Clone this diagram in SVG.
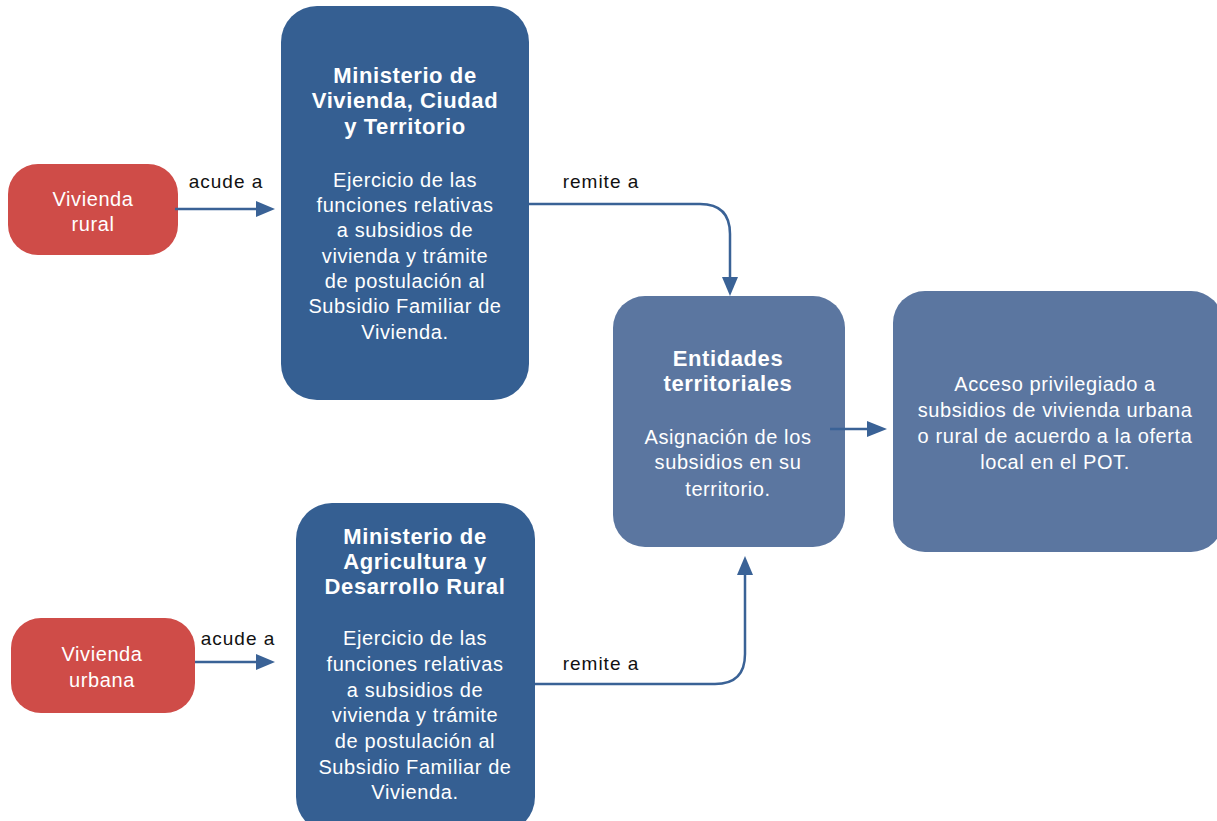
<svg xmlns="http://www.w3.org/2000/svg" width="1217" height="821" viewBox="0 0 1217 821">
<style>
.red{fill:#cf4c48}
.dark{fill:#355f92}
.mid{fill:#5b76a0}
text{font-family:"Liberation Sans",Arial,sans-serif;text-anchor:middle}
.b{fill:#fff;font-size:20px;letter-spacing:0.6px}
.t{fill:#fff;font-size:22px;font-weight:bold;letter-spacing:0.6px}
.lbl{fill:#111;font-size:19px;letter-spacing:1px}
.c{fill:none;stroke:#3a6296;stroke-width:2.5}
.h{fill:#3a6296}
</style>
<rect width="1217" height="821" fill="#fff"/>
<g id="vivienda-rural">
<rect class="red" x="8" y="164" width="170" height="91" rx="30"/>
<text class="b" x="93" y="206">Vivienda</text>
<text class="b" x="93" y="231">rural</text>
</g>
<g id="vivienda-urbana">
<rect class="red" x="11" y="618" width="184" height="95" rx="30"/>
<text class="b" x="102" y="661">Vivienda</text>
<text class="b" x="102" y="687">urbana</text>
</g>
<g id="ministerio-vivienda">
<rect class="dark" x="281" y="6" width="248" height="394" rx="36"/>
<text class="t" x="405" y="83">Ministerio de</text>
<text class="t" x="405" y="108">Vivienda, Ciudad</text>
<text class="t" x="405" y="134">y Territorio</text>
<text class="b" x="405" y="187">Ejercicio de las</text>
<text class="b" x="405" y="212">funciones relativas</text>
<text class="b" x="405" y="237">a subsidios de</text>
<text class="b" x="405" y="263">vivienda y trámite</text>
<text class="b" x="405" y="288">de postulación al</text>
<text class="b" x="405" y="313">Subsidio Familiar de</text>
<text class="b" x="405" y="339">Vivienda.</text>
</g>
<g id="ministerio-agricultura">
<rect class="dark" x="296" y="503" width="239" height="330" rx="36"/>
<text class="t" x="415" y="544">Ministerio de</text>
<text class="t" x="415" y="569">Agricultura y</text>
<text class="t" x="415" y="594">Desarrollo Rural</text>
<text class="b" x="415" y="645">Ejercicio de las</text>
<text class="b" x="415" y="671">funciones relativas</text>
<text class="b" x="415" y="697">a subsidios de</text>
<text class="b" x="415" y="722">vivienda y trámite</text>
<text class="b" x="415" y="748">de postulación al</text>
<text class="b" x="415" y="774">Subsidio Familiar de</text>
<text class="b" x="415" y="799">Vivienda.</text>
</g>
<g id="entidades-territoriales">
<rect class="mid" x="613" y="296" width="232" height="251" rx="32"/>
<text class="t" x="728" y="366">Entidades</text>
<text class="t" x="728" y="391">territoriales</text>
<text class="b" x="728" y="444">Asignación de los</text>
<text class="b" x="728" y="469">subsidios en su</text>
<text class="b" x="728" y="496">territorio.</text>
</g>
<g id="acceso">
<rect class="mid" x="893" y="291" width="330" height="261" rx="32"/>
<text class="b" x="1055" y="391">Acceso privilegiado a</text>
<text class="b" x="1055" y="417">subsidios de vivienda urbana</text>
<text class="b" x="1055" y="443">o rural de acuerdo a la oferta</text>
<text class="b" x="1055" y="469">local en el POT.</text>
</g>
<g id="connectors">
<path class="c" d="M175,209 H260"/>
<polygon class="h" points="256,201 275,209 256,217"/>
<path class="c" d="M195,662 H260"/>
<polygon class="h" points="256,654 275,662 256,670"/>
<path class="c" d="M529,204 H700 Q730,204 730,234 V282"/>
<polygon class="h" points="722,277 730,296 738,277"/>
<path class="c" d="M535,684 H715 Q745,684 745,654 V570"/>
<polygon class="h" points="737,575 745,556 753,575"/>
<path class="c" d="M830,429 H872"/>
<polygon class="h" points="867,421 887,429 867,437"/>
<text class="lbl" x="226" y="188">acude a</text>
<text class="lbl" x="238" y="645">acude a</text>
<text class="lbl" x="601" y="188">remite a</text>
<text class="lbl" x="601" y="670">remite a</text>
</g>
</svg>
